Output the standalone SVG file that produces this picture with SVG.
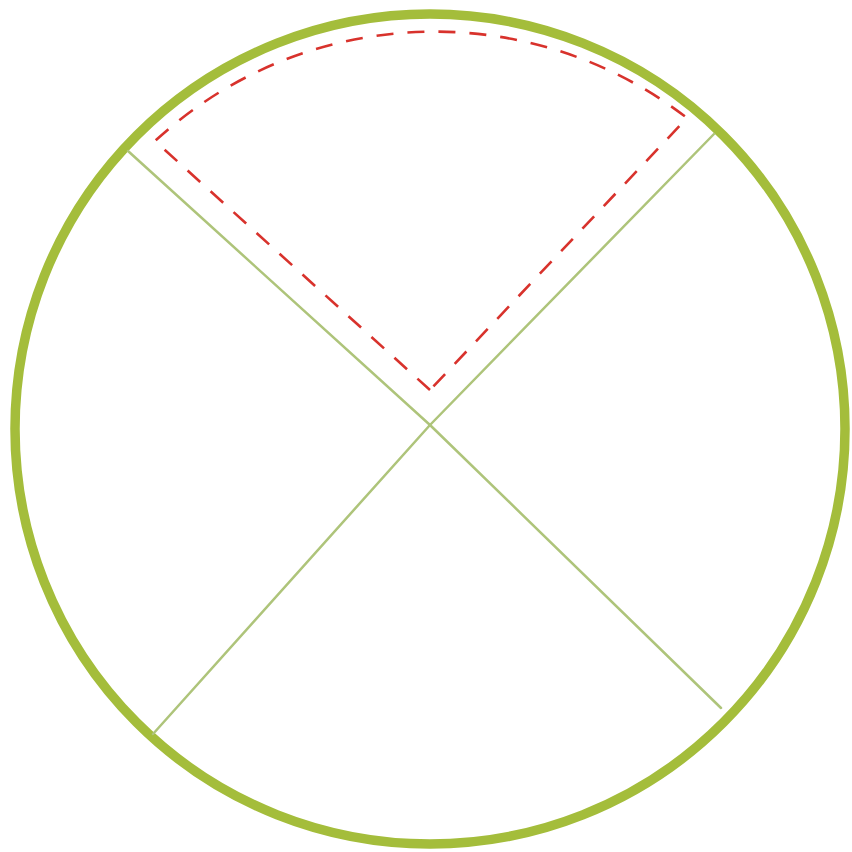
<svg xmlns="http://www.w3.org/2000/svg" width="852" height="852" viewBox="0 0 852 852">
<style>
.rim{fill:none;stroke:#a4bd3b;stroke-width:9.5}
.spoke{fill:none;stroke:#aec47a;stroke-width:2.5;stroke-linecap:round}
.sector{fill:none;stroke:#d8322c;stroke-width:2.6;stroke-dasharray:17 14;stroke-linejoin:miter}
</style>
<rect width="852" height="852" fill="#ffffff"/>
<g id="circle">
<circle class="rim" cx="430" cy="429" r="415"/>
</g>
<g id="connectors">
<line class="spoke" x1="430" y1="425" x2="128" y2="151"/>
<line class="spoke" x1="430" y1="425" x2="714" y2="134"/>
<line class="spoke" x1="430" y1="425" x2="153" y2="734"/>
<line class="spoke" x1="430" y1="425" x2="721" y2="708"/>
</g>
<g id="sector">
<path class="sector" d="M430,390 L155,141 A412,412 0 0 1 687,118 Z"/>
</g>
</svg>
